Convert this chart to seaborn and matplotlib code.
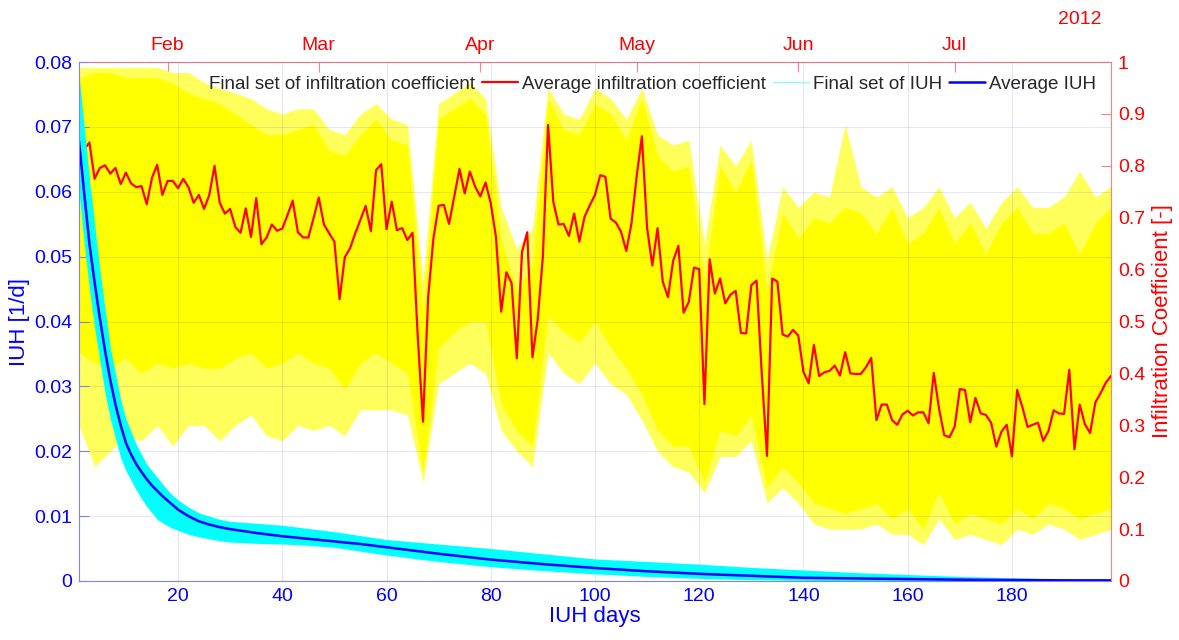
import numpy as np
import pandas as pd
import matplotlib
matplotlib.use('Agg')
import matplotlib.pyplot as plt
from matplotlib.lines import Line2D
import seaborn as sns

# average infiltration coefficient [-], one value per day (day 1 .. 199)
avg_infiltration = [
    0.820, 0.832, 0.845, 0.775, 0.796, 0.801, 0.785, 0.796, 0.765, 0.787,
    0.766, 0.759, 0.761, 0.726, 0.777, 0.802, 0.744, 0.771, 0.771, 0.757,
    0.775, 0.759, 0.729, 0.744, 0.717, 0.744, 0.800, 0.729, 0.708, 0.717,
    0.682, 0.671, 0.718, 0.663, 0.738, 0.649, 0.662, 0.687, 0.675, 0.679,
    0.705, 0.733, 0.672, 0.662, 0.662, 0.699, 0.739, 0.687, 0.670, 0.654,
    0.543, 0.624, 0.641, 0.670, 0.696, 0.723, 0.674, 0.792, 0.803, 0.678,
    0.731, 0.676, 0.680, 0.657, 0.671, 0.470, 0.307, 0.548, 0.660, 0.723,
    0.725, 0.688, 0.741, 0.794, 0.747, 0.789, 0.760, 0.741, 0.768, 0.728,
    0.663, 0.519, 0.595, 0.574, 0.429, 0.634, 0.672, 0.431, 0.503, 0.625,
    0.879, 0.731, 0.687, 0.688, 0.665, 0.708, 0.654, 0.702, 0.724, 0.744,
    0.782, 0.779, 0.698, 0.691, 0.673, 0.636, 0.689, 0.780, 0.857, 0.680,
    0.608, 0.680, 0.577, 0.547, 0.617, 0.646, 0.517, 0.538, 0.604, 0.601,
    0.341, 0.620, 0.554, 0.583, 0.535, 0.552, 0.559, 0.478, 0.477, 0.570,
    0.579, 0.400, 0.241, 0.583, 0.577, 0.475, 0.471, 0.484, 0.473, 0.403,
    0.381, 0.455, 0.395, 0.402, 0.405, 0.415, 0.396, 0.441, 0.400, 0.399,
    0.399, 0.412, 0.430, 0.310, 0.340, 0.340, 0.310, 0.301, 0.321, 0.328,
    0.319, 0.325, 0.325, 0.304, 0.401, 0.333, 0.281, 0.277, 0.297, 0.370,
    0.368, 0.306, 0.353, 0.323, 0.320, 0.305, 0.259, 0.288, 0.301, 0.240,
    0.368, 0.335, 0.297, 0.301, 0.305, 0.270, 0.289, 0.329, 0.323, 0.322,
    0.407, 0.254, 0.340, 0.302, 0.285, 0.344, 0.362, 0.382, 0.395,
]

# spread of the final set of infiltration coefficients, every 3rd day
env_days = list(range(1, 200, 3))
core_upper = [0.97, 0.98, 0.98, 0.97, 0.97, 0.97, 0.96, 0.94, 0.93, 0.92,
              0.90, 0.88, 0.86, 0.86, 0.87, 0.88, 0.83, 0.82, 0.86, 0.89,
              0.85, 0.84, 0.52, 0.89, 0.91, 0.93, 0.90, 0.66, 0.56, 0.61,
              0.93, 0.87, 0.86, 0.92, 0.90, 0.85, 0.93, 0.82, 0.79, 0.80,
              0.58, 0.80, 0.75, 0.81, 0.56, 0.71, 0.66, 0.70, 0.69, 0.72,
              0.71, 0.67, 0.72, 0.65, 0.67, 0.72, 0.65, 0.69, 0.63, 0.69,
              0.72, 0.67, 0.67, 0.69, 0.63, 0.69, 0.72]
core_lower = [0.44, 0.42, 0.41, 0.43, 0.40, 0.42, 0.41, 0.42, 0.41, 0.41,
              0.43, 0.44, 0.41, 0.42, 0.44, 0.42, 0.41, 0.37, 0.42, 0.44,
              0.42, 0.40, 0.21, 0.45, 0.48, 0.50, 0.50, 0.34, 0.29, 0.26,
              0.51, 0.48, 0.46, 0.50, 0.45, 0.41, 0.36, 0.29, 0.26, 0.26,
              0.19, 0.29, 0.28, 0.32, 0.18, 0.22, 0.19, 0.15, 0.14, 0.13,
              0.14, 0.15, 0.12, 0.14, 0.10, 0.17, 0.11, 0.13, 0.12, 0.11,
              0.14, 0.12, 0.15, 0.14, 0.12, 0.13, 0.14]
outer_upper = [0.99, 0.99, 0.99, 0.99, 0.99, 0.99, 0.98, 0.98, 0.96, 0.95,
               0.94, 0.93, 0.91, 0.90, 0.91, 0.91, 0.87, 0.86, 0.90, 0.92,
               0.89, 0.88, 0.58, 0.92, 0.94, 0.96, 0.93, 0.72, 0.64, 0.68,
               0.95, 0.90, 0.89, 0.95, 0.93, 0.89, 0.95, 0.86, 0.84, 0.85,
               0.65, 0.84, 0.80, 0.85, 0.62, 0.76, 0.72, 0.75, 0.74, 0.88,
               0.76, 0.74, 0.76, 0.70, 0.72, 0.76, 0.70, 0.73, 0.68, 0.73,
               0.76, 0.72, 0.72, 0.74, 0.79, 0.74, 0.76]
outer_lower = [0.30, 0.22, 0.25, 0.28, 0.27, 0.30, 0.26, 0.30, 0.30, 0.27,
               0.30, 0.32, 0.28, 0.27, 0.30, 0.29, 0.30, 0.28, 0.33, 0.33,
               0.33, 0.32, 0.19, 0.38, 0.40, 0.42, 0.40, 0.29, 0.25, 0.22,
               0.44, 0.40, 0.38, 0.42, 0.38, 0.36, 0.31, 0.25, 0.22, 0.21,
               0.17, 0.24, 0.24, 0.27, 0.15, 0.18, 0.15, 0.11, 0.10, 0.10,
               0.10, 0.11, 0.09, 0.09, 0.07, 0.12, 0.08, 0.09, 0.08, 0.07,
               0.10, 0.09, 0.11, 0.10, 0.08, 0.09, 0.10]

# average IUH [1/d] and spread of the final set of IUH
iuh_days = [1, 2, 3, 4, 5, 6, 7, 8, 9, 10, 11, 12, 13, 14, 15, 16, 17, 18,
            19, 20, 22, 24, 26, 28, 30, 35, 40, 45, 50, 55, 60, 70, 80, 90,
            100, 110, 120, 130, 140, 150, 160, 170, 180, 190, 199]
avg_iuh = [0.0678, 0.0598, 0.0520, 0.0460, 0.0405, 0.0355, 0.0310, 0.0272,
           0.0240, 0.0213, 0.0195, 0.0180, 0.0168, 0.0157, 0.0147, 0.0139,
           0.0131, 0.0124, 0.0117, 0.0110, 0.0100, 0.0092, 0.0087, 0.0083,
           0.0080, 0.0074, 0.0069, 0.0065, 0.0061, 0.0057, 0.0052, 0.0042,
           0.0033, 0.0026, 0.0020, 0.0015, 0.0011, 0.0008, 0.0005, 0.0004,
           0.0003, 0.0002, 0.00015, 0.0001, 0.0001]
iuh_lower = [0.0600, 0.0520, 0.0450, 0.0390, 0.0340, 0.0290, 0.0250, 0.0220,
             0.0190, 0.0170, 0.0155, 0.0140, 0.0127, 0.0115, 0.0105, 0.0095,
             0.0090, 0.0085, 0.0081, 0.0078, 0.0072, 0.0068, 0.0065, 0.0062,
             0.0060, 0.0058, 0.0057, 0.0055, 0.0052, 0.0046, 0.0040, 0.0030,
             0.0022, 0.0016, 0.0011, 0.0007, 0.0004, 0.0002, 0.0001, 0.0,
             0.0, 0.0, 0.0, 0.0, 0.0]
iuh_upper = [0.0780, 0.0700, 0.0620, 0.0550, 0.0480, 0.0420, 0.0360, 0.0320,
             0.0280, 0.0250, 0.0230, 0.0210, 0.0195, 0.0180, 0.0170, 0.0160,
             0.0150, 0.0140, 0.0132, 0.0125, 0.0114, 0.0105, 0.0100, 0.0095,
             0.0092, 0.0089, 0.0086, 0.0081, 0.0076, 0.0070, 0.0064, 0.0057,
             0.0050, 0.0042, 0.0034, 0.0030, 0.0026, 0.0021, 0.0017, 0.0013,
             0.0010, 0.0007, 0.0005, 0.0003, 0.0002]

month_names = ['Feb', 'Mar', 'Apr', 'May', 'Jun', 'Jul']
month_starts = ['2012-02-01', '2012-03-01', '2012-04-01', '2012-05-01',
                '2012-06-01', '2012-07-01']
day_zero = np.datetime64('2012-01-14')

BLUE = '#0000ff'
RED = '#ff0000'

sns.set_style('white')
plt.rcParams['font.family'] = ['Liberation Sans', 'DejaVu Sans']

df_inf = pd.DataFrame({'day': np.arange(1, len(avg_infiltration) + 1),
                       'coef': avg_infiltration})
df_iuh = pd.DataFrame({'day': iuh_days, 'iuh': avg_iuh})

fig = plt.figure(figsize=(11.79, 6.4), dpi=100)
ax = fig.add_axes([0.067, 0.0922, 0.8753, 0.8108])
ax2 = ax.twinx()
ax.set_zorder(ax2.get_zorder() + 1)
ax.patch.set_visible(False)

# infiltration coefficient (right axis)
ax2.fill_between(env_days, outer_lower, outer_upper, color='#ffff5c', lw=0)
ax2.fill_between(env_days, core_lower, core_upper, color='#ffff00', lw=0)
sns.lineplot(data=df_inf, x='day', y='coef', ax=ax2, color=RED, lw=1.6)

# IUH (left axis)
ax.fill_between(iuh_days, iuh_lower, iuh_upper, color='#00ffff', lw=0)
sns.lineplot(data=df_iuh, x='day', y='iuh', ax=ax, color=BLUE, lw=1.8)

ax.set_xlim(1, 199)
ax.set_ylim(0, 0.08)
ax2.set_ylim(0, 1)
ax.set_xticks(range(20, 181, 20))
ax.set_yticks(np.arange(0, 0.081, 0.01))
ax.set_yticklabels(['0'] + [f'{v:.2f}' for v in np.arange(0.01, 0.081, 0.01)])
ax2.set_yticks(np.arange(0, 1.01, 0.1))
ax2.set_yticklabels(['0'] + [f'{v:.1f}' for v in np.arange(0.1, 0.95, 0.1)] + ['1'])

ax.grid(True, color=BLUE, alpha=0.1, lw=0.8)
ax.tick_params(axis='both', direction='in', length=7, color='#8080ff',
               labelcolor=BLUE, labelsize=14, pad=5)
ax2.tick_params(axis='y', direction='in', length=7, color='#ff8080',
                labelcolor=RED, labelsize=14, pad=5)

for s in ['top', 'right']:
    ax.spines[s].set_visible(False)
for s in ['left', 'bottom']:
    ax.spines[s].set_color('#8080ff')
    ax2.spines[s].set_visible(False)
ax2.spines['right'].set_color('#ff8080')
ax2.spines['top'].set_visible(False)

# month axis on top
month_days = [int((np.datetime64(m) - day_zero).astype(int)) for m in month_starts]
top = ax2.secondary_xaxis('top', functions=(lambda x: x, lambda x: x))
top.set_xticks(month_days)
top.set_xticklabels(month_names)
top.tick_params(direction='in', length=7, color='#ff8080', labelcolor=RED,
                labelsize=14, pad=6)
top.spines['top'].set_color('#ff8080')
fig.text(1080 / 1179, 1 - 20 / 640, '2012', color=RED, fontsize=14,
         ha='center', va='center')

ax.set_xlabel('IUH days', color=BLUE, fontsize=16, labelpad=1)
ax.set_ylabel('IUH [1/d]', color=BLUE, fontsize=16, labelpad=3)
ax2.set_ylabel('Infiltration Coefficient [-]', color=RED, fontsize=16, labelpad=5)

handles = [Line2D([], [], color='#ffff66', lw=0.8),
           Line2D([], [], color=RED, lw=1.6),
           Line2D([], [], color='#80ffff', lw=0.8),
           Line2D([], [], color=BLUE, lw=1.8)]
labels = ['Final set of infiltration coefficient', 'Average infiltration coefficient',
          'Final set of IUH', 'Average IUH']
ax.legend(handles, labels, loc='upper right', bbox_to_anchor=(0.996, 0.995),
          ncol=4, frameon=False, fontsize=13.5, handlelength=1.9,
          handletextpad=0.2, columnspacing=0.4, borderaxespad=0.2)

fig.savefig('out.png', dpi=100)
